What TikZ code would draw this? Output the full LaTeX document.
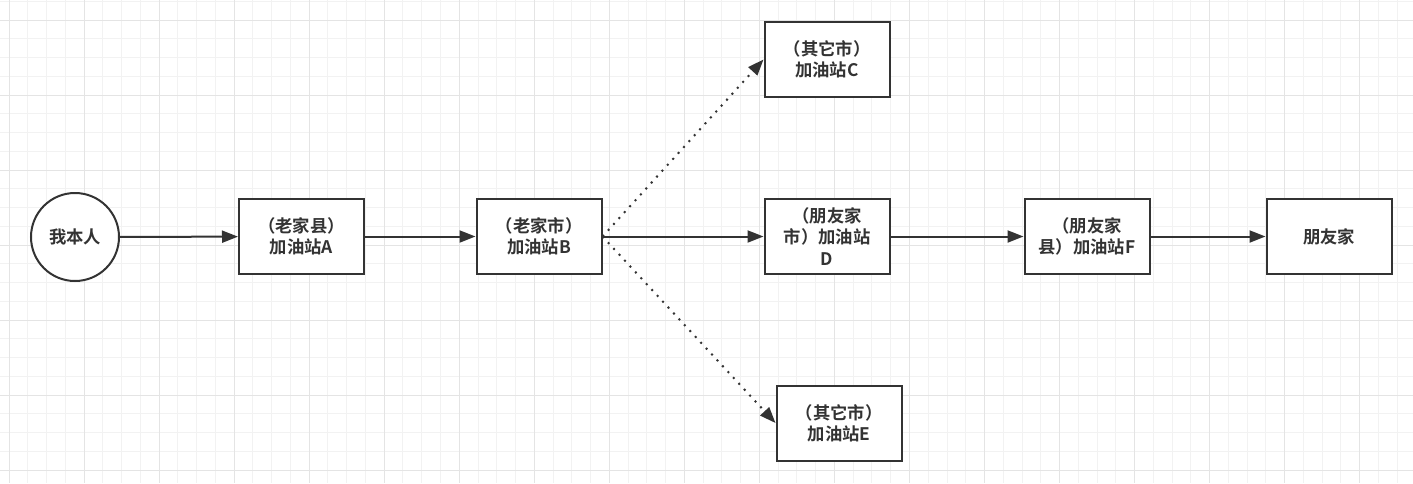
\documentclass[tikz,border=0pt]{standalone}
\usepackage{fontspec}
\setmainfont{Noto Sans CJK SC}[BoldFont={Noto Sans CJK SC Bold}]
\usetikzlibrary{arrows.meta}
\definecolor{ink}{HTML}{333333}
\definecolor{gridminor}{HTML}{F2F2F2}
\definecolor{gridmajor}{HTML}{E4E4E4}
\tikzset{
  stationbox/.style={draw=ink, line width=1.5pt, fill=white, minimum width=93.75pt, minimum height=56.25pt, inner sep=0pt, align=center, text=ink, font=\fontsize{13pt}{16pt}\selectfont\bfseries},
  personcircle/.style={circle, draw=ink, line width=1.5pt, fill=white, minimum size=66pt, inner sep=0pt, text=ink, font=\fontsize{13pt}{16pt}\selectfont\bfseries},
  flow/.style={draw=ink, line width=1.5pt, -{Triangle[length=12pt,width=9pt]}},
  dotflow/.style={draw=ink, line width=1.5pt, dash pattern=on 1.5pt off 4.5pt, -{Triangle[length=12pt,width=9pt,sep=0pt]}},
  minorline/.style={draw=gridminor, line width=0.75pt},
  majorline/.style={draw=gridmajor, line width=0.75pt}
}
\begin{document}
\begin{tikzpicture}[x=0.75pt,y=-0.75pt]
\useasboundingbox (0,0) rectangle (1413,483);
\fill[white] (0,0) rectangle (1413,483);
% grid
\foreach \i in {0,...,75} {
  \draw[minorline] ({9+\i*18.76},0) -- ({9+\i*18.76},483);
}
\foreach \i in {-1,...,25} {
  \draw[minorline] (0,{20+\i*18.76}) -- (1413,{20+\i*18.76});
}
\foreach \i in {0,...,18} {
  \draw[majorline] ({9+\i*75.04},0) -- ({9+\i*75.04},483);
}
\foreach \i in {0,...,6} {
  \draw[majorline] (0,{20+\i*75.04}) -- (1413,{20+\i*75.04});
}
% nodes
\node[personcircle] (me) at (75,237) {我本人};
\node[stationbox] (a) at (301.5,236.5) {（老家县）\\加油站A};
\node[stationbox] (b) at (539,236.5) {（老家市）\\加油站B};
\node[stationbox] (c) at (827,59.5) {（其它市）\\加油站C};
\node[stationbox] (d) at (827,236.5) {（朋友家\\市）加油站\\D};
\node[stationbox] (e) at (839,423) {（其它市）\\加油站E};
\node[stationbox] (f) at (1087,236.5) {（朋友家\\县）加油站F};
\node[stationbox] (g) at (1329,236.5) {朋友家};
% connectors
\draw[flow] (me) -- (a);
\draw[flow] (a) -- (b);
\draw[flow] (b) -- (d);
\draw[flow] (d) -- (f);
\draw[flow] (f) -- (g);
\draw[dotflow] (b.east) -- (c.west);
\draw[dotflow] (b.east) -- (e.west);
\end{tikzpicture}
\end{document}
